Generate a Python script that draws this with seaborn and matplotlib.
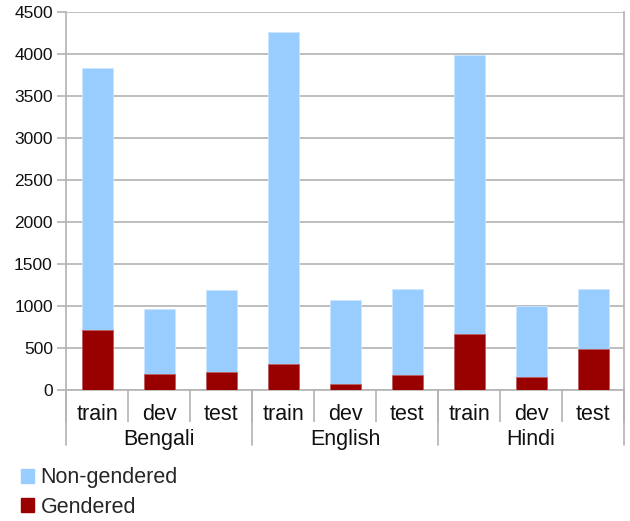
import pandas as pd
import seaborn as sns
import matplotlib.pyplot as plt
from matplotlib.patches import Patch

languages = ['Bengali', 'English', 'Hindi']
splits = ['train', 'dev', 'test']
gendered = [714, 190, 210, 313, 71, 183, 663, 151, 492]
non_gendered = [3116, 770, 980, 3945, 997, 1015, 3325, 845, 706]

blue = '#99ccff'
red = '#990000'
grid_col = '#b3b3b3'

df = pd.DataFrame({
    'language': [l for l in languages for s in splits],
    'split': splits * len(languages),
    'Gendered': gendered,
    'Non-gendered': non_gendered,
})
df['key'] = df['language'] + ' ' + df['split']
df['total'] = df['Gendered'] + df['Non-gendered']

sns.set_style('white')
plt.rcParams['font.family'] = ['Liberation Sans', 'DejaVu Sans']

fig = plt.figure(figsize=(6.3, 5.21), dpi=100)
ax = fig.add_axes([0.1048, 0.2514, 0.8857, 0.7256])

sns.barplot(data=df, x='key', y='total', color=blue, width=0.5,
            saturation=1, edgecolor='#cce6ff', linewidth=0.6, ax=ax, zorder=3)
sns.barplot(data=df, x='key', y='Gendered', color=red, width=0.5,
            saturation=1, edgecolor='#c06060', linewidth=0.6, ax=ax, zorder=4)

ax.set_ylim(0, 4500)
ax.set_xlim(-0.5, len(df) - 0.5)
ax.set_yticks(range(0, 4501, 500))
ax.yaxis.grid(True, color=grid_col, linewidth=1.2, zorder=0)
ax.set_axisbelow(True)
ax.set_xlabel('')
ax.set_ylabel('')

ax.spines['top'].set_visible(False)
for side in ['left', 'right', 'bottom']:
    ax.spines[side].set_color(grid_col)
    ax.spines[side].set_linewidth(1.2)

ax.tick_params(axis='y', left=True, length=6.5, width=1.2, color=grid_col,
               labelsize=12.5, pad=3, labelcolor='#111111')
ax.set_xticks(range(len(df)))
ax.set_xticklabels(df['split'], fontsize=15.5, color='#111111')
ax.tick_params(axis='x', which='major', length=0, pad=10)

# category separators
ax.set_xticks([i - 0.5 for i in range(len(df) + 1)], minor=True)
ax.tick_params(axis='x', which='minor', bottom=True, length=23, width=1.2,
               color=grid_col)

# group separators and group labels
xt = ax.get_xaxis_transform()
n = len(splits)
for g, lang in enumerate(languages):
    ax.text(g * n + (n - 1) / 2, -0.131, lang, transform=xt, ha='center',
            va='center', fontsize=15.5, color='#111111')
for g in range(len(languages) + 1):
    ax.plot([g * n - 0.5, g * n - 0.5], [0, -0.146], transform=xt,
            color=grid_col, linewidth=1.2, clip_on=False)

handles = [Patch(color=blue, label='Non-gendered'),
           Patch(color=red, label='Gendered')]
fig.legend(handles=handles, loc='lower left', bbox_to_anchor=(0.02, -0.01),
           frameon=False, fontsize=15.5, handlelength=0.6, handleheight=0.6,
           handletextpad=0.3, labelspacing=0.38, borderaxespad=0)

plt.savefig('out.png', dpi=100)
